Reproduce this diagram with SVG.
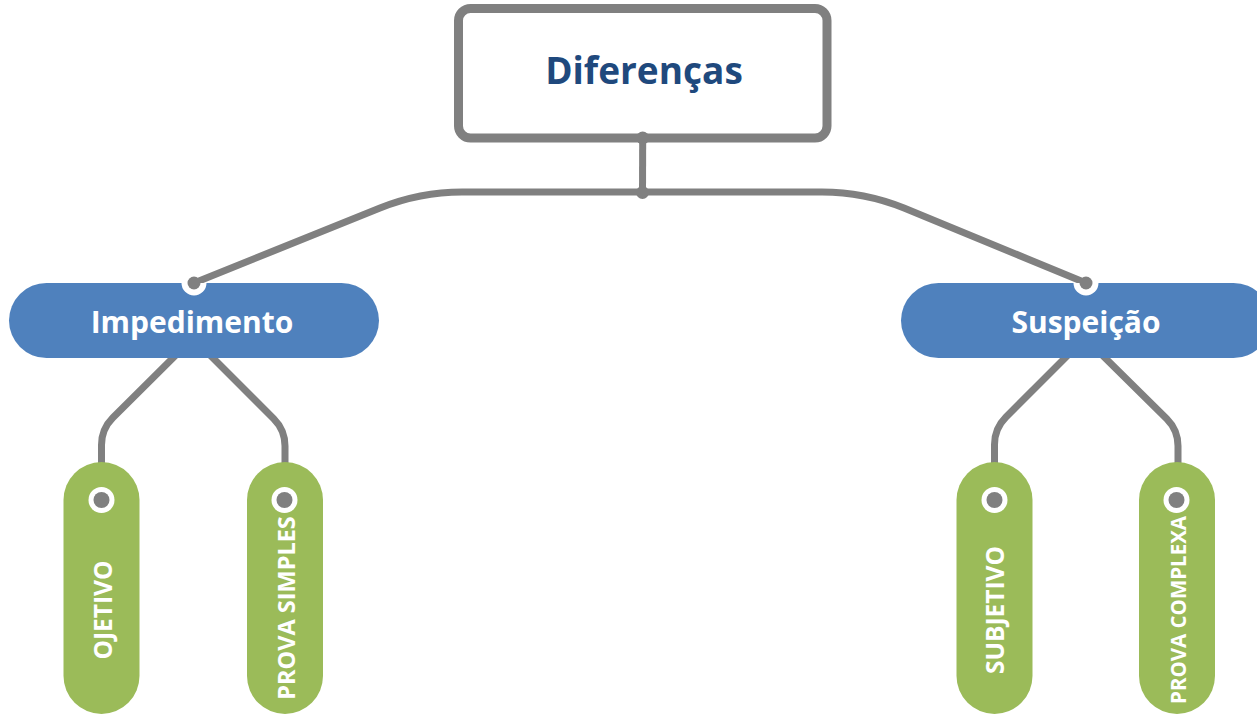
<svg xmlns="http://www.w3.org/2000/svg" width="1257" height="715" viewBox="0 0 1257 715">
  <style>
    .line { fill: none; stroke: #808080; stroke-width: 7; stroke-linejoin: round; }
    .dot { fill: #808080; }
    .ring { fill: #ffffff; }
    .root-box { fill: #ffffff; stroke: #808080; stroke-width: 9; }
    .blue { fill: #4F81BD; }
    .green { fill: #9BBB59; }
    text { font-family: "Open Sans", "Noto Sans", "Liberation Sans", sans-serif; font-weight: bold; text-anchor: middle; }
    .title { fill: #1F497D; font-size: 37px; }
    .label { fill: #ffffff; font-size: 30px; }
    .leaf { fill: #ffffff; }
  </style>
  <defs>
    <clipPath id="clip-imp"><rect x="9" y="283" width="370" height="75" rx="37.5"/></clipPath>
    <clipPath id="clip-sus"><rect x="901" y="283" width="370" height="75" rx="37.5"/></clipPath>
  </defs>

  <!-- connectors -->
  <g id="connectors">
    <line class="line" x1="642.7" y1="138" x2="642.5" y2="192.5"/>
    <path class="line" d="M194,283 L380,208 Q420,192 462,192 L822,192 Q864,192 904,208 L1086,283"/>
    <circle class="dot" cx="642.5" cy="192.5" r="6.5"/>
    <!-- Impedimento branches -->
    <path class="line" d="M186,345 L112.8,417.7 Q101.5,429 101.5,445 L101.5,470"/>
    <path class="line" d="M200,345 L273.7,418.7 Q285,430 285,446 L285,470"/>
    <!-- Suspeição branches -->
    <path class="line" d="M1078,345 L1005.8,417.2 Q994.5,428.5 994.5,444.5 L994.5,470"/>
    <path class="line" d="M1092,345 L1166.7,418.7 Q1178,430 1178,446 L1178,470"/>
  </g>

  <g id="node-diferencas">
    <rect class="root-box" x="458.5" y="8.5" width="368.5" height="129.5" rx="12"/>
    <text class="title" x="644" y="84">Diferenças</text>
    <circle class="dot" cx="642.7" cy="138" r="6.5"/>
  </g>

  <g id="node-impedimento">
    <rect class="blue" x="9" y="283" width="370" height="75" rx="37.5"/>
    <circle class="ring" cx="194" cy="283" r="12.5" clip-path="url(#clip-imp)"/>
    <circle class="dot" cx="194" cy="283" r="6.5"/>
    <text class="label" x="192" y="333">Impedimento</text>
  </g>

  <g id="node-suspeicao">
    <rect class="blue" x="901" y="283" width="370" height="75" rx="37.5"/>
    <circle class="ring" cx="1086" cy="283" r="12.5" clip-path="url(#clip-sus)"/>
    <circle class="dot" cx="1086" cy="283" r="6.5"/>
    <text class="label" x="1086" y="333">Suspeição</text>
  </g>

  <g id="node-ojetivo">
    <rect class="green" x="63.5" y="462" width="76" height="252" rx="38"/>
    <circle class="ring" cx="101.5" cy="500" r="13"/>
    <circle class="dot" cx="101.5" cy="500" r="8"/>
    <text class="leaf" font-size="24.5" transform="translate(111.5,610) rotate(-90)">OJETIVO</text>
  </g>

  <g id="node-prova-simples">
    <rect class="green" x="247" y="462" width="76" height="252" rx="38"/>
    <circle class="ring" cx="284.5" cy="500" r="13"/>
    <circle class="dot" cx="284.5" cy="500" r="8"/>
    <text class="leaf" font-size="23.5" transform="translate(294.5,608) rotate(-90)">PROVA SIMPLES</text>
  </g>

  <g id="node-subjetivo">
    <rect class="green" x="956.5" y="462" width="76" height="252" rx="38"/>
    <circle class="ring" cx="994.5" cy="500" r="13"/>
    <circle class="dot" cx="994.5" cy="500" r="8"/>
    <text class="leaf" font-size="24.5" transform="translate(1003.5,610) rotate(-90)">SUBJETIVO</text>
  </g>

  <g id="node-prova-complexa">
    <rect class="green" x="1139" y="462" width="76" height="252" rx="38"/>
    <circle class="ring" cx="1176.5" cy="500" r="13"/>
    <circle class="dot" cx="1176.5" cy="500" r="8"/>
    <text class="leaf" font-size="20.5" transform="translate(1186,610) rotate(-90)">PROVA COMPLEXA</text>
  </g>
</svg>
